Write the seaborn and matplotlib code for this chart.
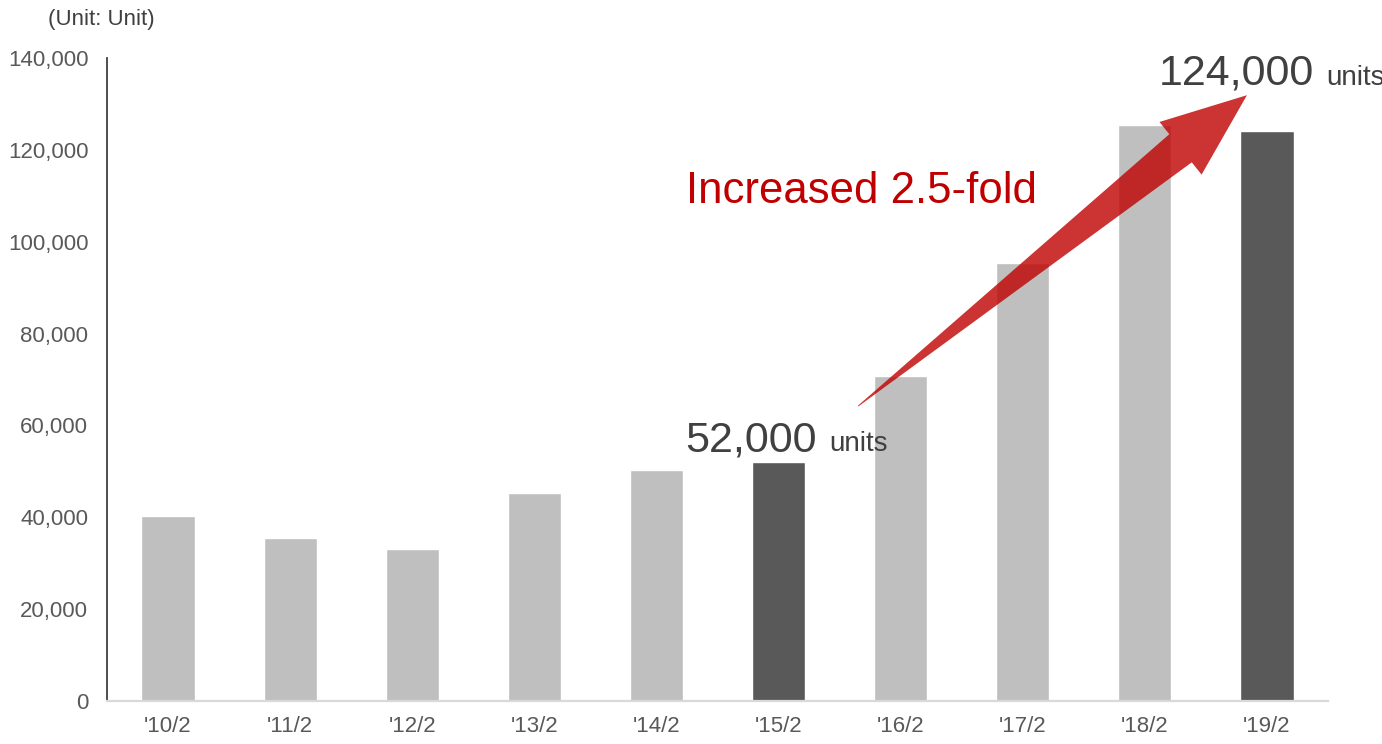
import numpy as np
import pandas as pd
import matplotlib
matplotlib.use("Agg")
import matplotlib.pyplot as plt
from matplotlib.patches import Polygon
from matplotlib.ticker import FuncFormatter
import seaborn as sns

# Fiscal periods and unit counts
periods = ["'10/2", "'11/2", "'12/2", "'13/2", "'14/2", "'15/2", "'16/2", "'17/2", "'18/2", "'19/2"]
units = [40300, 35500, 33100, 45300, 50300, 52000, 70800, 95400, 125400, 124000]
highlighted = ["'15/2", "'19/2"]
y_ticks = [0, 20000, 40000, 60000, 80000, 100000, 120000, 140000]

LIGHT = "#bfbfbf"
DARK = "#595959"
TEXT = "#595959"
RED = "#c00000"

sns.set_theme(style="white")
plt.rcParams["font.family"] = ["Liberation Sans", "DejaVu Sans"]

df = pd.DataFrame({"period": periods, "units": units})
palette = {p: (DARK if p in highlighted else LIGHT) for p in periods}

W, H = 1382, 744
fig = plt.figure(figsize=(W / 100, H / 100), dpi=100)
ax = fig.add_axes([107 / W, 43 / H, 1221 / W, 643 / H])

sns.barplot(data=df, x="period", y="units", hue="period", palette=palette,
            order=periods, hue_order=periods, width=0.435, legend=False,
            saturation=1, ax=ax)

ax.set_xlim(-0.5, len(periods) - 0.5)
ax.set_ylim(0, 140000)
ax.set_yticks(y_ticks)
ax.yaxis.set_major_formatter(FuncFormatter(lambda v, _: f"{int(v):,}"))
ax.set_xlabel("")
ax.set_ylabel("")
ax.tick_params(axis="y", length=0, pad=13.5, labelsize=16, labelcolor=TEXT)
ax.tick_params(axis="x", length=0, pad=11, labelsize=16, labelcolor=TEXT)

for side in ["top", "right"]:
    ax.spines[side].set_visible(False)
ax.spines["left"].set_color("#404040")
ax.spines["left"].set_linewidth(1.3)
ax.spines["bottom"].set_color("#d9d9d9")
ax.spines["bottom"].set_linewidth(1.6)

fig.text(48 / W, 1 - 25 / H, "(Unit: Unit)", fontsize=16, color="#404040",
         ha="left", va="baseline")

# Value callouts on the two highlighted bars
i15 = periods.index("'15/2")
i19 = periods.index("'19/2")
for idx, big_dx, small_dx, dy in [(i15, 27.6, 36.3, 8.0), (i19, 34.2, 42.8, 33.5)]:
    ax.annotate(f"{units[idx]:,}", xy=(idx, units[idx]), xytext=(big_dx, dy),
                textcoords="offset points", ha="right", va="baseline",
                fontsize=31, color="#404040", annotation_clip=False)
    ax.annotate("units", xy=(idx, units[idx]), xytext=(small_dx, dy),
                textcoords="offset points", ha="left", va="baseline",
                fontsize=20, color="#404040", annotation_clip=False)

ax.text(4.24, 108400, "Increased 2.5-fold", fontsize=31.5, color=RED,
        ha="left", va="baseline")

# Tapered growth arrow, shaped in pixel space and placed in data space
tail = ax.transData.transform((5.651, 64200))
tip = ax.transData.transform((8.836, 131900))
d = tip - tail
L = np.hypot(*d)
u = d / L
n = np.array([-u[1], u[0]])
head_len, head_hw, shaft_hw, tail_hw = 85.0, 33.7, 18.0, 0.4
base = tip - u * head_len
pts_px = np.array([
    tail + n * tail_hw,
    base + n * shaft_hw,
    base + n * head_hw,
    tip,
    base - n * head_hw,
    base - n * shaft_hw,
    tail - n * tail_hw,
])
pts = ax.transData.inverted().transform(pts_px)
ax.add_patch(Polygon(pts, closed=True, facecolor=RED, edgecolor="none",
                     alpha=0.8, zorder=5, clip_on=False))

fig.savefig("out.png", dpi=100)
